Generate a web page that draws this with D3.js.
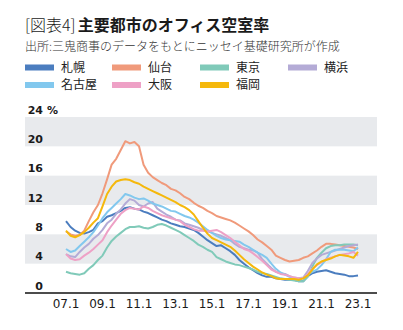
<!DOCTYPE html>
<html><head><meta charset="utf-8">
<script src="https://cdn.jsdelivr.net/npm/d3@7/dist/d3.min.js"></script>
<style>body{margin:0;background:#fff}svg{display:block}</style>
</head><body><svg id="c" width="403" height="330"></svg>
<script>
// quarterly observation periods (year.month)
const periods = [
 "2007.1","2007.4","2007.7","2007.10","2008.1","2008.4","2008.7","2008.10",
 "2009.1","2009.4","2009.7","2009.10","2010.1","2010.4","2010.7","2010.10",
 "2011.1","2011.4","2011.7","2011.10","2012.1","2012.4","2012.7","2012.10",
 "2013.1","2013.4","2013.7","2013.10","2014.1","2014.4","2014.7","2014.10",
 "2015.1","2015.4","2015.7","2015.10","2016.1","2016.4","2016.7","2016.10",
 "2017.1","2017.4","2017.7","2017.10","2018.1","2018.4","2018.7","2018.10",
 "2019.1","2019.4","2019.7","2019.10","2020.1","2020.4","2020.7","2020.10",
 "2021.1","2021.4","2021.7","2021.10","2022.1","2022.4","2022.7","2022.10",
 "2023.1"];

const cityNames  = ["札幌","仙台","東京","横浜","名古屋","大阪","福岡"];
const cityColors = ["#4b7dbf","#f09a7b","#80cab9","#b4abd6","#82c8ee","#eea1c6","#f5b80c"];

const sapporo = [9.8,9.0,8.5,8.2, 8.1,8.3,8.6,9.5, 9.8,10.4,10.6,10.9, 11.2,11.6,11.7,11.5,
 11.4,11.1,10.9,10.6, 10.3,10.0,9.8,9.5, 9.3,9.1,9.0,8.8, 8.6,8.2,7.7,7.2,
 6.8,6.4,6.5,6.1, 5.7,5.2,4.5,4.0, 3.5,3.1,2.7,2.4, 2.2,2.2,2.0,1.9,
 1.8,1.8,1.8,1.6, 1.6,2.3,2.7,2.9, 3.0,3.1,2.9,2.7, 2.6,2.5,2.3,2.3, 2.4];
const sendai = [8.4,8.0,7.8,7.9, 8.5,9.8,11.0,12.0, 13.6,15.5,17.5,18.3, 19.5,20.7,20.4,20.6,
 20.0,17.5,16.4,15.8, 15.4,15.0,14.7,14.2, 14.0,13.6,13.1,12.8, 12.3,11.9,11.6,11.2,
 10.9,10.5,10.3,10.1, 9.9,9.6,9.2,8.8, 8.4,7.9,7.3,6.9, 6.4,5.9,5.1,4.8,
 4.5,4.3,4.4,4.5, 4.8,5.0,5.4,5.8, 6.3,6.7,6.7,6.6, 6.5,6.4,6.3,6.2, 6.0];
const tokyo = [2.9,2.7,2.6,2.5, 2.7,3.3,3.8,4.5, 5.1,6.2,7.1,7.7, 8.2,8.7,9.0,9.0,
 9.1,8.9,8.8,9.0, 9.3,9.4,9.2,8.9, 8.6,8.3,7.9,7.5, 7.1,6.6,6.3,5.9,
 5.6,4.9,4.6,4.3, 4.1,3.9,3.8,3.6, 3.4,3.2,2.9,2.7, 2.6,2.4,2.2,2.0,
 1.9,1.8,1.7,1.6, 1.6,2.2,3.6,4.8, 5.5,6.1,6.4,6.5, 6.5,6.6,6.6,6.6, 6.5];
const yokohama = [5.3,5.0,4.9,5.6, 6.2,6.7,7.4,7.9, 8.6,9.5,10.0,10.8, 11.4,12.2,12.8,12.6,
 12.0,11.8,12.2,12.4, 11.5,11.1,10.7,10.4, 10.0,9.9,9.5,9.3, 9.1,8.9,8.6,8.4,
 8.2,8.0,7.8,7.5, 7.2,6.7,6.3,6.1, 5.9,5.8,5.5,4.6, 4.0,3.4,2.9,2.7,
 2.6,2.3,2.1,2.0, 2.1,3.0,4.1,4.7, 5.2,5.4,5.6,5.8, 6.0,6.2,6.4,6.5, 6.6];
const nagoya = [6.0,5.6,5.8,6.4, 7.0,7.6,8.3,9.2, 10.2,11.0,11.6,12.2, 12.8,13.5,13.3,13.0,
 12.8,12.9,12.6,12.2, 12.0,11.8,11.5,11.2, 11.1,10.8,10.5,10.3, 10.0,9.6,9.1,8.6,
 8.2,7.8,7.5,7.3, 7.2,7.1,7.0,6.6, 6.3,5.9,5.5,5.2, 4.8,4.0,3.3,2.8,
 2.5,2.2,2.0,1.9, 2.0,2.5,2.9,3.2, 3.8,4.6,5.6,5.9, 5.9,5.9,5.8,5.7, 6.2];
const osaka = [5.3,4.7,4.5,4.6, 5.1,5.5,6.0,6.6, 7.2,8.3,9.2,10.0, 10.8,11.3,11.6,11.5,
 11.4,11.8,11.6,11.2, 10.9,10.6,10.4,10.2, 10.0,9.8,9.3,9.0, 8.7,8.5,8.5,8.4,
 8.5,8.6,8.3,7.9, 7.5,7.0,6.5,6.0, 5.8,5.4,4.9,4.4, 3.8,3.2,2.9,2.6,
 2.5,2.3,2.1,2.0, 2.0,2.6,3.3,3.8, 4.2,4.6,4.8,5.0, 5.2,5.3,5.4,5.6, 5.1];
const fukuoka = [8.5,7.8,7.6,7.9, 8.3,8.9,9.6,10.2, 11.8,13.5,14.5,15.2, 15.4,15.5,15.4,15.1,
 14.9,14.5,14.2,13.9, 13.6,13.3,13.0,12.7, 12.4,12.0,11.7,11.3, 10.7,9.8,8.9,8.1,
 7.5,7.2,6.9,6.6, 6.3,5.8,5.2,4.6, 4.1,3.6,3.2,2.8, 2.5,2.3,2.0,1.9,
 1.9,1.9,1.9,1.8, 2.0,2.4,3.2,3.9, 4.3,4.5,4.7,5.0, 5.2,5.1,5.0,4.8, 5.6];

const seriesValues = [sapporo, sendai, tokyo, yokohama, nagoya, osaka, fukuoka];
const yTicks = [0,4,8,12,16,20,24];
const xTickLabels = ["07.1","09.1","11.1","13.1","15.1","17.1","19.1","21.1","23.1"];

const titleLead = "[図表4]";
const titleMain = "主要都市のオフィス空室率";
const sourceText = "出所:三鬼商事のデータをもとにニッセイ基礎研究所が作成";

const svg = d3.select("#c");
const JP = "'Noto Sans CJK JP','Noto Sans',sans-serif";
const NUM = "'DejaVu Sans',sans-serif";

const toYear = s => { const [y,m] = s.split(".").map(Number); return y + (m-1)/12; };
const tickYear = s => { const [y,m] = s.split(".").map(Number); return 2000 + y + (m-1)/12; };

const x = d3.scaleLinear().domain([2004.753, 2024.041]).range([25, 377]);
const y = d3.scaleLinear().domain([0, 24]).range([293, 117]);

// bands
for (let i = 0; i < yTicks.length - 1; i++) {
  if (i % 2 === 1) {
    svg.append("rect")
      .attr("x", x.range()[0]).attr("width", x.range()[1] - x.range()[0])
      .attr("y", y(yTicks[i+1])).attr("height", y(yTicks[i]) - y(yTicks[i+1]))
      .attr("fill", "#e8eaed");
  }
}

// y labels
yTicks.forEach(v => {
  svg.append("text").attr("x", 43).attr("y", y(v) - 3.5)
    .attr("text-anchor", "end").attr("font-family", NUM).attr("font-weight", "bold")
    .attr("font-size", 11).attr("fill", "#1a1a1a").text(v);
});
svg.append("text").attr("x", 47).attr("y", y(24) - 3.5)
  .attr("font-family", NUM).attr("font-weight", "bold")
  .attr("font-size", 11).attr("fill", "#1a1a1a").text("%");

// lines
const line = d3.line().x(d => x(d[0])).y(d => y(d[1]));
seriesValues.forEach((vals, i) => {
  const pts = vals.map((v, j) => [toYear(periods[j]), v]);
  svg.append("path").datum(pts).attr("d", line)
    .attr("fill", "none").attr("stroke", cityColors[i])
    .attr("stroke-width", 2).attr("stroke-linejoin", "round");
});

// x axis baseline
svg.append("line").attr("x1", 25).attr("x2", 377).attr("y1", y(0)).attr("y2", y(0))
  .attr("stroke", "#111").attr("stroke-width", 1.3);

xTickLabels.forEach(t => {
  svg.append("text").attr("x", x(tickYear(t))).attr("y", 307.5)
    .attr("text-anchor", "middle").attr("font-family", NUM)
    .attr("font-size", 12).attr("fill", "#1a1a1a").text(t);
});

// title
const title = svg.append("text").attr("x", 25).attr("y", 31)
  .attr("font-family", JP).attr("font-size", 16).attr("fill", "#1a1a1a");
title.append("tspan").attr("font-weight", 300).text(titleLead);
title.append("tspan").attr("dx", 2).attr("font-weight", "bold").text(titleMain);

svg.append("text").attr("x", 25).attr("y", 51)
  .attr("font-family", JP).attr("font-size", 12).attr("font-weight", 300)
  .attr("fill", "#333").text(sourceText);

// legend
const legX = [25, 112, 200, 288];
const legY = [67.5, 85];
cityNames.forEach((n, i) => {
  const cx = legX[i % 4], cy = legY[Math.floor(i / 4)];
  svg.append("rect").attr("x", cx).attr("y", cy - 3).attr("width", 29).attr("height", 6)
    .attr("fill", cityColors[i]);
  svg.append("text").attr("x", cx + 36).attr("y", cy + 4.3)
    .attr("font-family", JP).attr("font-size", 12).attr("fill", "#222").text(n);
});
</script></body></html>
